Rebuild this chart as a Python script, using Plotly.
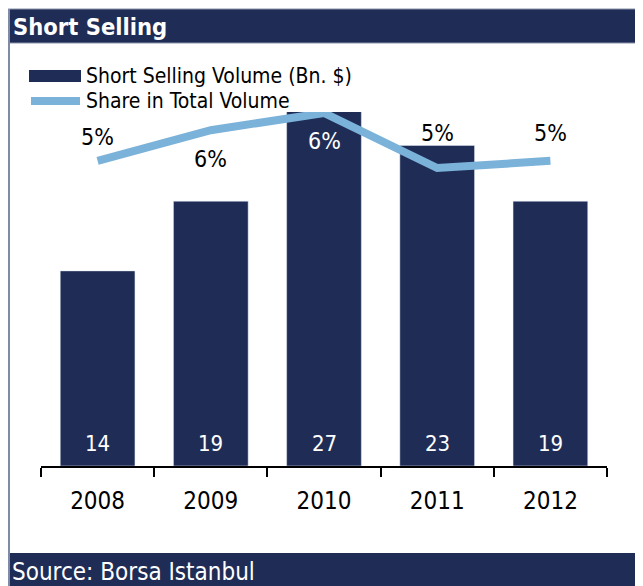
import plotly.graph_objects as go

years = ["2008", "2009", "2010", "2011", "2012"]
volume = [14, 19, 27, 23, 19]
share = [5.17, 5.9, 6.31, 5.0, 5.17]
bar_name = "Short Selling Volume (Bn. $)"
line_name = "Share in Total Volume"
title = "Short Selling"
source = "Source: Borsa Istanbul"

NAVY = "#1F2D56"
BLUE = "#7BB2D9"
FONT = "Tahoma, 'DejaVu Sans Condensed', 'DejaVu Sans', sans-serif"

OFF = 8  # page body margin
W, H = 643 - OFF, 586 - OFF
L, R, T, B = 41 - OFF, 36, 112 - OFF, 120
pw, ph = W - L - R, H - T - B

def px(x):
    return (x - OFF - L) / pw

def py(y):
    return (H - B - (y - OFF)) / ph

fig = go.Figure()
fig.add_trace(go.Bar(
    x=years, y=volume, name=bar_name, marker_color=NAVY,
))
fig.add_trace(go.Scatter(
    x=years, y=share, name=line_name, mode="lines", yaxis="y2",
    line=dict(color=BLUE, width=8),
))

annotations = []
for i, v in enumerate(volume):
    annotations.append(dict(
        x=i, y=0, xref="x", yref="y", text=str(v), showarrow=False,
        yanchor="middle", yshift=23, font=dict(size=22, color="white", family=FONT),
    ))

label_shift = [24, -29, -28, 35, 28]
label_color = ["black", "black", "white", "black", "black"]
for i, (v, s, c) in enumerate(zip(share, label_shift, label_color)):
    annotations.append(dict(
        x=i, y=v, xref="x", yref="y2", text=f"{round(v)}%", showarrow=False,
        yshift=s, font=dict(size=23, color=c, family=FONT),
    ))

shapes = [
    dict(type="rect", xref="paper", yref="paper", x0=px(8), x1=px(660),
         y0=py(9), y1=py(43), fillcolor=NAVY, line=dict(color="#8A93A8", width=1), layer="above"),
    dict(type="rect", xref="paper", yref="paper", x0=px(8), x1=px(660),
         y0=py(553), y1=py(600), fillcolor=NAVY, line=dict(width=0), layer="above"),
    dict(type="line", xref="paper", yref="paper", x0=px(9), x1=px(9),
         y0=py(9), y1=py(600), line=dict(color="#7F8BA6", width=2)),
    dict(type="rect", xref="paper", yref="paper", x0=px(29), x1=px(81),
         y0=py(70), y1=py(82), fillcolor=NAVY, line=dict(width=0)),
    dict(type="line", xref="paper", yref="paper", x0=px(31), x1=px(80),
         y0=py(101), y1=py(101), line=dict(color=BLUE, width=8)),
]
annotations += [
    dict(x=px(11), y=py(27), xref="paper", yref="paper", xanchor="left", yanchor="middle",
         text=f"<b>{title}</b>", showarrow=False, font=dict(size=23.5, color="white", family=FONT)),
    dict(x=px(10), y=py(572), xref="paper", yref="paper", xanchor="left", yanchor="middle",
         text=source, showarrow=False, font=dict(size=24, color="white", family=FONT)),
    dict(x=px(84), y=py(76), xref="paper", yref="paper", xanchor="left", yanchor="middle",
         text=bar_name, showarrow=False, font=dict(size=21, color="black", family=FONT)),
    dict(x=px(84), y=py(101), xref="paper", yref="paper", xanchor="left", yanchor="middle",
         text=line_name, showarrow=False, font=dict(size=21, color="black", family=FONT)),
]

fig.update_layout(
    width=W, height=H, margin=dict(l=L, r=R, t=T, b=B),
    paper_bgcolor="white", plot_bgcolor="white",
    showlegend=False, bargap=0.34,
    font=dict(family=FONT, color="black"),
    xaxis=dict(type="category", range=[-0.5, 4.5], showline=True, linecolor="black", linewidth=2,
               ticks="outside", tickson="boundaries", ticklen=9, tickwidth=2,
               tickcolor="black", showgrid=False, zeroline=False,
               tickfont=dict(size=24, family=FONT, color="black"), ticklabelstandoff=12),
    yaxis=dict(range=[0, 25.4], visible=False, showgrid=False),
    yaxis2=dict(range=[-2.095, 6.333], overlaying="y", visible=False, showgrid=False),
    shapes=shapes, annotations=annotations,
)

fig.write_html("out.html")
